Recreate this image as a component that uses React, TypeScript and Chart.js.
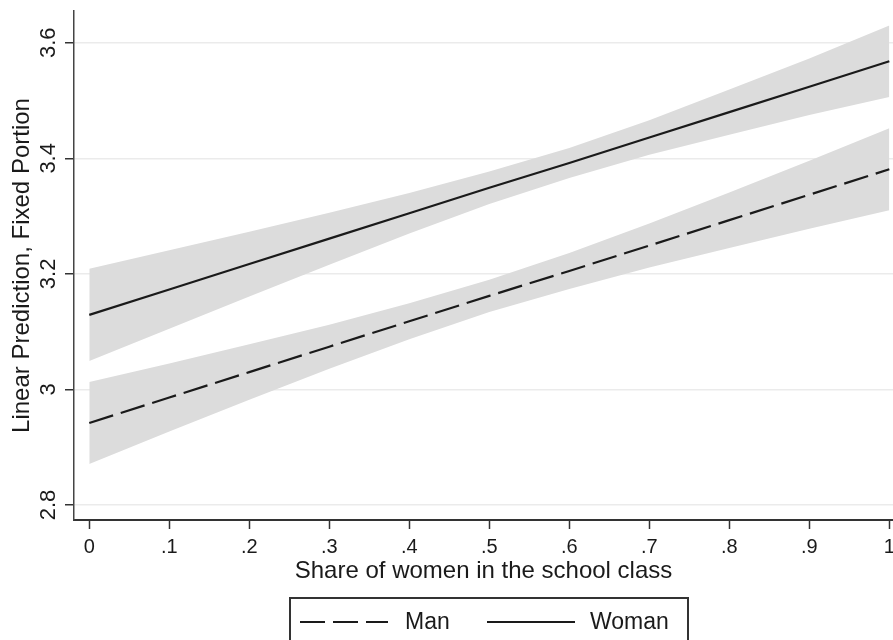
import React, { useEffect, useRef } from "react";
import { Chart, registerables } from "chart.js";

Chart.register(...registerables);

// ---- data ----
const xValues = [0, 0.1, 0.2, 0.3, 0.4, 0.5, 0.6, 0.7, 0.8, 0.9, 1.0];

const womanFit = [3.129, 3.173, 3.217, 3.261, 3.305, 3.349, 3.392, 3.436, 3.48, 3.524, 3.568];
const womanUpper = [3.209, 3.241, 3.273, 3.306, 3.34, 3.377, 3.418, 3.466, 3.519, 3.573, 3.63];
const womanLower = [3.049, 3.105, 3.161, 3.216, 3.27, 3.321, 3.366, 3.406, 3.441, 3.475, 3.506];

const manFit = [2.942, 2.986, 3.03, 3.074, 3.118, 3.162, 3.205, 3.249, 3.293, 3.337, 3.381];
const manUpper = [3.013, 3.045, 3.078, 3.112, 3.149, 3.19, 3.236, 3.287, 3.341, 3.396, 3.452];
const manLower = [2.871, 2.927, 2.982, 3.036, 3.087, 3.134, 3.174, 3.211, 3.245, 3.278, 3.31];

const xTickValues = [0, 0.1, 0.2, 0.3, 0.4, 0.5, 0.6, 0.7, 0.8, 0.9, 1];
const xTickLabels = ["0", ".1", ".2", ".3", ".4", ".5", ".6", ".7", ".8", ".9", "1"];
const yTickValues = [2.8, 3.0, 3.2, 3.4, 3.6];
const yTickLabels = ["2.8", "3", "3.2", "3.4", "3.6"];

const seriesLabels = ["Man", "Woman"];
const xTitle = "Share of women in the school class";
const yTitle = "Linear Prediction, Fixed Portion";

const FONT = "'Liberation Sans', Arial, Helvetica, sans-serif";
const INK = "#1a1a1a";
const BAND = "#dcdcdc";

const pts = (ys: number[]) => xValues.map((x, i) => ({ x, y: ys[i] }));

const legendPlugin = {
  id: "boxLegend",
  afterDraw(chart: any) {
    const { ctx } = chart;
    const ds = chart.data.datasets;
    ctx.save();
    ctx.strokeStyle = "#333";
    ctx.lineWidth = 2;
    ctx.strokeRect(290, 598, 398, 60);
    ctx.font = `23px ${FONT}`;
    ctx.fillStyle = INK;
    ctx.textBaseline = "middle";
    ctx.textAlign = "left";
    const y = 622;
    const items = [
      { ds: ds[0], x0: 300, x1: 388, tx: 405 },
      { ds: ds[1], x0: 487, x1: 575, tx: 590 },
    ];
    items.forEach((it) => {
      ctx.beginPath();
      ctx.setLineDash(it.ds.borderDash || []);
      ctx.lineWidth = it.ds.borderWidth;
      ctx.strokeStyle = it.ds.borderColor;
      ctx.moveTo(it.x0, y);
      ctx.lineTo(it.x1, y);
      ctx.stroke();
      ctx.setLineDash([]);
      ctx.fillText(it.ds.label, it.tx, y + 1);
    });
    ctx.restore();
  },
};

function ChartView() {
  const ref = useRef<HTMLCanvasElement | null>(null);
  useEffect(() => {
    if (!ref.current) return;
    const chart = new Chart(ref.current, {
      type: "line",
      data: {
        datasets: [
          {
            label: seriesLabels[0],
            data: pts(manFit),
            borderColor: INK,
            borderWidth: 2.2,
            borderDash: [25, 8],
            pointRadius: 0,
            fill: false,
          },
          {
            label: seriesLabels[1],
            data: pts(womanFit),
            borderColor: INK,
            borderWidth: 2.2,
            pointRadius: 0,
            fill: false,
          },
          {
            label: "Woman CI upper",
            data: pts(womanUpper),
            borderWidth: 0,
            borderColor: "rgba(0,0,0,0)",
            backgroundColor: BAND,
            pointRadius: 0,
            fill: "+1",
          },
          {
            label: "Woman CI lower",
            data: pts(womanLower),
            borderWidth: 0,
            borderColor: "rgba(0,0,0,0)",
            pointRadius: 0,
            fill: false,
          },
          {
            label: "Man CI upper",
            data: pts(manUpper),
            borderWidth: 0,
            borderColor: "rgba(0,0,0,0)",
            backgroundColor: BAND,
            pointRadius: 0,
            fill: "+1",
          },
          {
            label: "Man CI lower",
            data: pts(manLower),
            borderWidth: 0,
            borderColor: "rgba(0,0,0,0)",
            pointRadius: 0,
            fill: false,
          },
        ],
      },
      options: {
        responsive: false,
        animation: false,
        events: [],
        layout: { padding: { top: 11, right: 0, bottom: 54, left: 0 } },
        plugins: {
          legend: { display: false },
          tooltip: { enabled: false },
          filler: { propagate: false },
        },
        scales: {
          x: {
            type: "linear",
            min: -0.0191,
            max: 1.0046,
            afterBuildTicks: (s: any) => {
              s.ticks = xTickValues.map((v) => ({ value: v }));
            },
            afterFit: (s: any) => {
              s.height = 66;
              s.paddingLeft = 0;
              s.paddingRight = 0;
            },
            ticks: {
              autoSkip: false,
              maxRotation: 0,
              minRotation: 0,
              padding: 6,
              color: INK,
              font: { family: FONT, size: 20 },
              callback: (v: any) => {
                const i = xTickValues.findIndex((t) => Math.abs(t - v) < 1e-9);
                return i >= 0 ? xTickLabels[i] : "";
              },
            },
            grid: {
              drawOnChartArea: false,
              drawTicks: true,
              tickLength: 9,
              tickColor: "#333",
              tickWidth: 1.5,
            },
            border: { display: true, color: "#333", width: 2 },
            title: {
              display: true,
              text: xTitle,
              color: INK,
              font: { family: FONT, size: 24 },
              padding: { top: 0, bottom: 0 },
            },
          },
          y: {
            type: "linear",
            min: 2.774,
            max: 3.655,
            afterBuildTicks: (s: any) => {
              s.ticks = yTickValues.map((v) => ({ value: v }));
            },
            afterFit: (s: any) => {
              s.width = 74;
              s.paddingTop = 0;
              s.paddingBottom = 0;
            },
            ticks: {
              autoSkip: false,
              minRotation: 90,
              maxRotation: 90,
              crossAlign: "center",
              padding: 1,
              color: INK,
              font: { family: FONT, size: 22 },
              callback: (v: any) => {
                const i = yTickValues.findIndex((t) => Math.abs(t - v) < 1e-9);
                return i >= 0 ? yTickLabels[i] : "";
              },
            },
            grid: {
              color: "#ebebeb",
              lineWidth: 1.5,
              drawTicks: true,
              tickLength: 9,
              tickColor: "#333",
              tickWidth: 1.5,
            },
            border: { display: true, color: "#444", width: 1.5 },
            title: {
              display: true,
              text: yTitle,
              color: INK,
              font: { family: FONT, size: 24 },
              padding: { top: 8, bottom: 0 },
            },
          },
        },
      },
      plugins: [legendPlugin],
    } as any);
    return () => chart.destroy();
  }, []);
  return <canvas ref={ref} width={893} height={640} style={{ display: "block" }} />;
}

export default function App() {
  return (
    <div style={{ position: "absolute", left: 0, top: 0, width: 893, height: 640, background: "#fff" }}>
      <ChartView />
    </div>
  );
}
